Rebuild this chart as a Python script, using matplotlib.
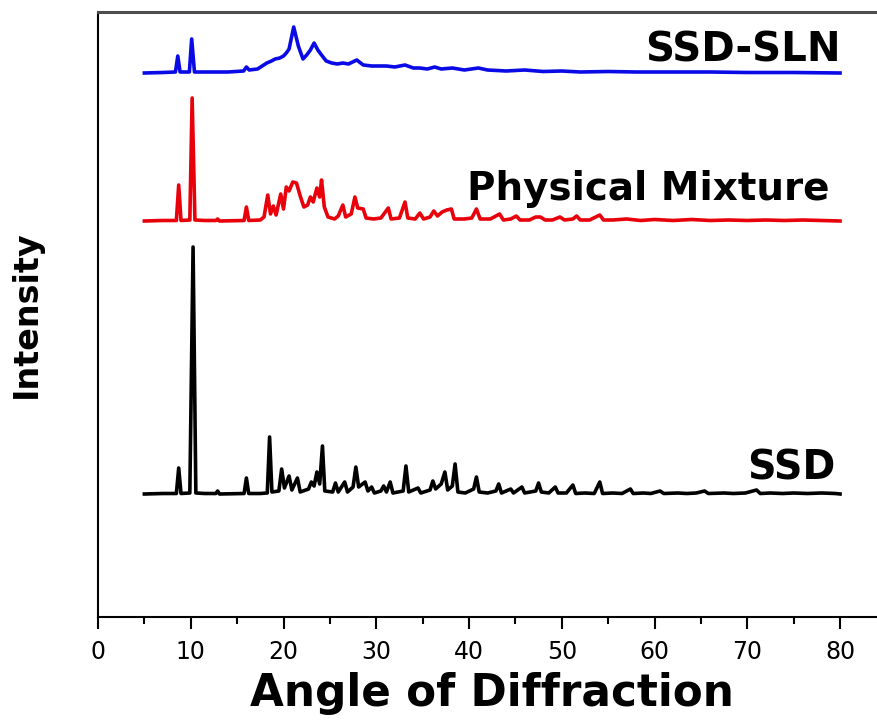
import numpy as np
import matplotlib.pyplot as plt
from matplotlib.ticker import MultipleLocator

# XRD traces as (2-theta, counts above the trace's own baseline)
ssd_pattern = [
    (5.0, 0), (7.0, 0.5), (8.45, 0.5), (8.7, 26), (8.95, 0.5), (9.9, 1), (10.25, 247),
    (10.55, 1), (11.5, 0.5), (12.7, 0.5), (12.9, 3), (13.1, 0), (15.75, 0.5), (16.0, 16),
    (16.25, 0.5), (17.5, 0.5), (18.25, 1), (18.5, 57), (18.75, 2), (19.5, 3), (19.8, 25),
    (20.1, 6), (20.6, 18), (20.9, 4), (21.5, 16), (21.8, 2), (22.7, 5), (23.0, 12),
    (23.3, 8), (23.6, 22), (23.9, 10), (24.2, 48), (24.45, 3), (25.3, 2), (25.6, 11),
    (25.9, 2), (26.6, 12), (26.9, 2), (27.5, 7), (27.8, 27), (28.1, 7), (28.8, 12),
    (29.1, 3), (29.5, 7), (29.8, 1), (30.5, 3), (30.8, 8), (31.1, 2), (31.5, 12),
    (31.8, 1), (32.9, 3), (33.2, 28), (33.5, 2), (34.5, 6), (34.8, 1), (35.8, 4),
    (36.1, 13), (36.4, 5), (37.0, 10), (37.4, 22), (37.7, 4), (38.2, 8), (38.5, 30),
    (38.8, 2), (39.6, 1), (40.5, 5), (40.8, 17), (41.1, 2), (42.0, 1), (42.9, 3),
    (43.2, 10), (43.5, 1), (44.5, 5), (44.8, 1), (45.7, 7), (46.0, 1), (47.2, 3),
    (47.5, 11), (47.8, 2), (48.6, 1), (49.3, 7), (49.6, 1), (50.5, 1), (51.2, 9),
    (51.5, 0.5), (52.5, 1), (53.5, 0.5), (54.1, 12), (54.4, 0.5), (55.5, 1), (56.5, 0.5),
    (57.4, 5), (57.7, 0.5), (58.8, 1), (59.6, 0.5), (60.6, 3), (61.0, 0.5), (62.5, 1),
    (63.5, 0.5), (64.5, 1), (65.4, 3), (65.8, 0.5), (67.5, 1), (68.5, 0.5), (69.8, 1),
    (71.0, 4), (71.4, 0.5), (72.5, 1), (73.8, 0.5), (75.0, 1), (76.5, 0.5), (78.0, 1),
    (79.5, 0.5), (80.0, 0),
]

pm_pattern = [
    (5.0, 0), (7.0, 0.5), (8.45, 0.5), (8.7, 36), (8.95, 0.5), (9.9, 1), (10.15, 123),
    (10.45, 1), (11.5, 0.5), (12.7, 0.5), (12.9, 2), (13.1, 0), (15.75, 0.5), (16.0, 14),
    (16.25, 0.5), (17.5, 1), (17.9, 4), (18.3, 26), (18.6, 7), (18.9, 15), (19.2, 6),
    (19.7, 27), (20.0, 12), (20.3, 34), (20.6, 30), (21.0, 39), (21.4, 38), (21.8, 25),
    (22.2, 14), (22.6, 16), (22.9, 24), (23.2, 19), (23.6, 33), (23.9, 24), (24.1, 41),
    (24.4, 14), (24.8, 4), (25.5, 2), (25.9, 5), (26.4, 16), (26.7, 4), (27.3, 7),
    (27.7, 24), (28.0, 13), (28.6, 12), (28.9, 3), (29.7, 2), (30.5, 3), (31.3, 13),
    (31.6, 2), (32.5, 3), (33.1, 19), (33.4, 3), (34.2, 2), (34.7, 8), (35.1, 2),
    (35.8, 4), (36.2, 10), (36.6, 5), (37.1, 9), (37.6, 11), (38.1, 12), (38.4, 2),
    (39.5, 2), (40.3, 3), (40.8, 12), (41.2, 2), (42.3, 2), (43.3, 7), (43.7, 1),
    (44.5, 2), (45.1, 5), (45.5, 1), (46.5, 1), (47.2, 4), (47.7, 4), (48.2, 1),
    (49.0, 1), (49.8, 4), (50.3, 1), (51.2, 2), (51.6, 5), (52.0, 1), (53.0, 1),
    (54.1, 6), (54.5, 1), (55.5, 1), (57.0, 2), (58.5, 0.5), (60.0, 1.5), (62.0, 0.5),
    (64.0, 1.5), (66.0, 0.5), (68.0, 1), (70.0, 0.5), (72.0, 1), (74.0, 0.5), (76.0, 1),
    (78.0, 0.5), (80.0, 0),
]

sln_pattern = [
    (5.0, 0), (7.0, 0.5), (8.35, 1), (8.6, 17), (8.85, 1), (9.85, 1), (10.1, 34),
    (10.4, 1), (12.0, 1), (14.0, 1), (15.7, 2), (16.0, 6), (16.3, 3), (17.2, 4),
    (18.2, 10), (18.7, 12), (19.1, 14), (19.6, 15), (20.0, 17), (20.3, 20), (20.6, 24),
    (21.1, 46), (21.6, 27), (22.1, 14), (22.5, 18), (22.9, 23), (23.3, 30), (23.7, 23),
    (24.1, 18), (24.6, 12), (25.2, 10), (25.8, 9), (26.4, 10), (27.0, 9), (27.9, 13),
    (28.6, 8), (29.5, 7), (30.2, 7), (31.1, 7), (32.0, 6), (33.1, 8), (34.0, 5),
    (34.7, 5), (35.5, 4), (36.3, 6), (37.0, 4), (38.2, 5), (39.5, 3), (41.0, 5),
    (42.0, 3), (44.0, 2), (46.0, 3), (48.0, 1.5), (50.0, 2), (52.0, 1), (55.0, 1.5),
    (58.0, 1), (62.0, 1), (66.0, 1), (70.0, 0.5), (75.0, 0.5), (80.0, 0),
]

# vertical stacking of the three patterns
ssd_offset = 123
pm_offset = 396
sln_offset = 544

fig = plt.figure(figsize=(8.77, 7.27), dpi=100)
ax = fig.add_axes([98 / 877, 110 / 727, 788.4 / 877, 605 / 727])

for pattern, offset, color in [(ssd_pattern, ssd_offset, 'black'),
                               (pm_pattern, pm_offset, '#e8000b'),
                               (sln_pattern, sln_offset, '#0a0ae6')]:
    two_theta, counts = np.array(pattern).T
    ax.plot(two_theta, counts + offset, color=color, lw=2.6, solid_joinstyle='round')

ax.text(80.1, 555, 'SSD-SLN', ha='right', va='baseline', fontsize=29, fontweight='bold')
ax.text(78.9, 417, 'Physical Mixture', ha='right', va='baseline', fontsize=28, fontweight='bold')
ax.text(79.5, 137, 'SSD', ha='right', va='baseline', fontsize=28.5, fontweight='bold')

ax.set_xlim(0, 85)
ax.set_ylim(0, 605)
ax.xaxis.set_major_locator(MultipleLocator(10))
ax.xaxis.set_minor_locator(MultipleLocator(5))
ax.tick_params(axis='x', which='major', direction='out', length=8.5, width=1.5,
               labelsize=17, pad=8)
ax.tick_params(axis='x', which='minor', direction='out', length=5, width=1.5)
ax.set_yticks([])

ax.spines['right'].set_visible(False)
ax.spines['left'].set_linewidth(1.5)
ax.spines['bottom'].set_linewidth(1.5)
ax.spines['top'].set_linewidth(2.2)
ax.spines['top'].set_color('0.3')

ax.set_xlabel('Angle of Diffraction', fontsize=31.5, fontweight='bold', labelpad=6)
ax.set_ylabel('Intensity', fontsize=24, fontweight='bold', labelpad=40)

fig.savefig('out.png', dpi=100)
